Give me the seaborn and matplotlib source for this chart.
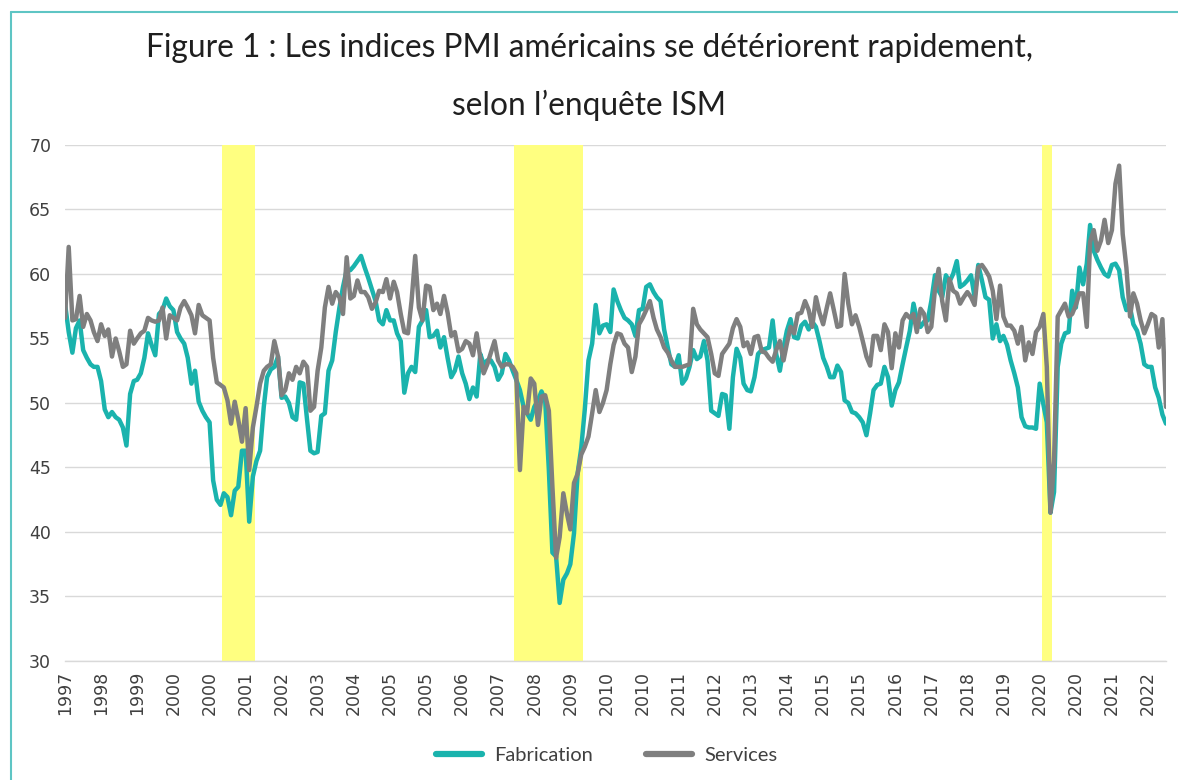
import numpy as np
import pandas as pd
import matplotlib.pyplot as plt
import seaborn as sns
from matplotlib.lines import Line2D

# === 1. Données : indices ISM mensuels, juillet 1997 -> décembre 2022 ===
start_month = '1997-07'

fabrication = [
    57.7, 55.5, 53.9, 55.8, 56.4, 54.1,                                # 1997 (jul-déc)
    53.5, 53.0, 52.8, 52.8, 51.7, 49.5, 48.9, 49.3, 48.9, 48.7, 48.1, 46.7,  # 1998
    50.7, 51.7, 51.8, 52.3, 53.5, 55.4, 54.5, 53.7, 56.9, 57.2, 58.1, 57.5,  # 1999
    57.2, 55.5, 55.0, 54.6, 53.5, 51.5, 52.5, 50.1, 49.4, 48.9, 48.5, 44.0,  # 2000
    42.5, 42.1, 43.0, 42.7, 41.3, 43.2, 43.5, 46.3, 46.3, 40.8, 44.3, 45.5,  # 2001
    46.3, 49.7, 52.0, 52.6, 52.8, 53.6, 50.4, 50.5, 50.0, 48.9, 48.7, 51.6,  # 2002
    51.5, 48.7, 46.3, 46.1, 46.2, 49.0, 49.2, 52.5, 53.3, 55.5, 57.4, 59.0,  # 2003
    60.3, 60.3, 60.6, 61.0, 61.4, 60.5, 59.7, 58.8, 57.9, 56.4, 56.1, 57.2,  # 2004
    56.4, 56.4, 55.4, 54.8, 50.8, 52.3, 52.8, 52.4, 55.9, 56.4, 57.2, 55.1,  # 2005
    55.2, 55.6, 54.3, 55.1, 53.5, 52.0, 52.5, 53.6, 52.3, 51.5, 50.3, 51.2,  # 2006
    50.5, 53.8, 53.0, 53.3, 53.3, 52.8, 51.8, 52.3, 53.8, 53.3, 52.5, 51.8,  # 2007
    51.0, 49.7, 49.2, 48.7, 49.7, 50.2, 50.9, 50.2, 44.8, 38.4, 38.1, 34.5,  # 2008
    36.3, 36.8, 37.5, 39.9, 44.5, 46.5, 49.5, 53.3, 54.6, 57.6, 55.4, 56.0,  # 2009
    56.1, 55.5, 58.8, 57.9, 57.2, 56.6, 56.4, 56.1, 55.2, 57.2, 57.3, 59.0,  # 2010
    59.2, 58.6, 58.2, 57.9, 55.7, 54.3, 53.0, 52.8, 53.7, 51.5, 51.9, 52.8,  # 2011
    54.1, 53.4, 53.6, 54.8, 53.3, 49.4, 49.2, 49.0, 50.7, 50.6, 48.0, 52.0,  # 2012
    54.2, 53.5, 51.5, 51.0, 50.9, 52.0, 53.8, 54.1, 54.2, 54.3, 56.4, 53.8,  # 2013
    52.5, 54.3, 55.6, 56.5, 55.1, 55.0, 56.0, 56.3, 55.7, 56.3, 55.9, 54.8,  # 2014
    53.5, 52.8, 52.0, 52.0, 52.9, 52.4, 50.2, 50.0, 49.3, 49.2, 48.9, 48.5,  # 2015
    47.5, 49.2, 51.0, 51.4, 51.5, 52.8, 52.0, 49.8, 51.0, 51.6, 53.0, 54.3,  # 2016
    55.6, 57.7, 56.5, 55.9, 56.3, 56.4, 57.9, 59.9, 58.7, 58.2, 59.9, 59.4,  # 2017
    60.0, 61.0, 59.0, 59.2, 59.5, 59.9, 58.2, 60.7, 59.5, 58.2, 58.0, 55.0,  # 2018
    56.1, 54.8, 55.2, 54.5, 53.3, 52.3, 51.2, 48.9, 48.2, 48.1, 48.1, 48.0,  # 2019
    51.5, 49.9, 48.5, 41.5, 43.1, 52.8, 54.6, 55.4, 55.5, 58.7, 57.4, 60.5,  # 2020
    59.2, 60.8, 63.8, 61.8, 61.1, 60.5, 60.0, 59.8, 60.7, 60.8, 60.3, 58.2,  # 2021
    57.2, 57.4, 56.1, 55.6, 54.6, 53.0, 52.8, 52.8, 51.2, 50.4, 49.1, 48.4,  # 2022
]

services = [
    56.6, 62.1, 56.4, 56.5, 58.3, 55.9,                                # 1997 (jul-déc)
    56.9, 56.4, 55.5, 54.8, 56.1, 55.2, 55.7, 53.6, 55.0, 54.0, 52.8, 53.0,  # 1998
    55.6, 54.6, 55.0, 55.4, 55.6, 56.6, 56.4, 56.3, 56.4, 57.4, 55.0, 56.8,  # 1999
    56.6, 56.4, 57.4, 57.9, 57.4, 56.8, 55.4, 57.6, 56.8, 56.6, 56.4, 53.5,  # 2000
    51.6, 51.4, 51.2, 50.2, 48.4, 50.1, 48.7, 47.0, 49.6, 44.8, 48.1, 49.7,  # 2001
    51.5, 52.5, 52.8, 53.0, 54.8, 53.6, 50.6, 51.0, 52.3, 51.8, 52.8, 52.3,  # 2002
    53.2, 52.8, 49.4, 49.7, 52.5, 54.3, 57.4, 59.0, 57.7, 58.6, 58.2, 56.9,  # 2003
    61.3, 58.1, 58.3, 59.5, 58.6, 58.6, 58.2, 57.3, 57.8, 58.7, 58.6, 59.6,  # 2004
    58.1, 59.4, 58.6, 56.9, 55.5, 55.4, 57.9, 61.4, 57.4, 56.4, 59.1, 59.0,  # 2005
    57.2, 57.7, 56.9, 58.3, 57.0, 55.2, 55.5, 54.0, 54.2, 54.8, 54.6, 53.7,  # 2006
    55.4, 53.5, 52.3, 53.0, 53.9, 54.8, 53.3, 52.8, 53.0, 53.0, 52.8, 52.3,  # 2007
    44.8, 49.7, 49.2, 51.9, 51.5, 48.3, 50.5, 50.6, 49.4, 43.5, 38.0, 39.6,  # 2008
    43.0, 41.4, 40.2, 43.8, 44.5, 46.0, 46.6, 47.4, 49.2, 51.0, 49.3, 50.0,  # 2009
    51.0, 53.0, 54.5, 55.4, 55.3, 54.6, 54.3, 52.4, 53.6, 56.1, 56.6, 57.2,  # 2010
    57.9, 56.6, 55.7, 55.1, 54.3, 53.9, 53.3, 52.8, 52.8, 52.8, 52.9, 53.0,  # 2011
    57.3, 56.1, 55.7, 55.4, 55.1, 53.8, 52.3, 52.1, 53.8, 54.2, 54.6, 55.8,  # 2012
    56.5, 55.9, 54.4, 54.7, 53.8, 55.1, 55.2, 54.0, 53.9, 53.5, 53.2, 54.1,  # 2013
    54.8, 53.3, 54.6, 55.9, 55.4, 56.9, 57.0, 57.9, 57.2, 55.9, 58.2, 57.0,  # 2014
    56.1, 57.4, 58.5, 57.2, 55.9, 56.0, 60.0, 57.7, 56.1, 56.8, 55.9, 54.8,  # 2015
    53.6, 52.9, 55.2, 55.2, 54.1, 56.1, 55.5, 52.7, 55.4, 54.3, 56.4, 56.9,  # 2016
    56.6, 56.9, 55.5, 57.3, 56.9, 55.5, 55.9, 58.8, 60.4, 57.9, 56.4, 59.6,  # 2017
    58.7, 58.5, 57.7, 58.2, 58.6, 58.2, 57.6, 60.5, 60.7, 60.3, 59.8, 58.7,  # 2018
    56.5, 59.1, 56.7, 56.0, 56.0, 55.6, 54.6, 55.9, 53.3, 54.7, 53.8, 55.5,  # 2019
    55.9, 56.9, 52.8, 41.5, 45.5, 56.7, 57.2, 57.7, 56.7, 56.9, 57.6, 58.5,  # 2020
    58.5, 55.9, 62.5, 63.4, 61.8, 62.6, 64.2, 62.4, 63.4, 67.0, 68.4, 63.1,  # 2021
    60.5, 56.7, 58.5, 57.7, 56.4, 55.4, 56.1, 56.9, 56.7, 54.3, 56.5, 49.7,  # 2022
]

# récessions américaines (bandes jaunes), premier et dernier mois
recession_starts = ['2001-03', '2007-12', '2020-02']
recession_ends = ['2001-11', '2009-06', '2020-04']

title_1 = 'Figure 1 : Les indices PMI américains se détériorent rapidement,'
title_2 = 'selon l’enquête ISM'

# === 2. Mise en forme ===
dates = pd.date_range(start_month, periods=len(fabrication), freq='MS')
df = pd.DataFrame({'date': dates, 'Fabrication': fabrication, 'Services': services})
df = df.melt(id_vars='date', var_name='serie', value_name='indice')

sns.set_style('white')
plt.rcParams['font.family'] = ['DejaVu Sans']

teal = '#1AB3AD'
grey = '#7F7F7F'

fig = plt.figure(figsize=(11.78, 7.8), dpi=100)
ax = fig.add_axes([0.0552, 0.1526, 0.9346, 0.6615])

# bandes de récession
half_month = pd.Timedelta(days=15)
for s, e in zip(recession_starts, recession_ends):
    ax.axvspan(pd.Timestamp(s) - half_month, pd.Timestamp(e) + half_month,
               color='#FFFF80', lw=0, zorder=1)

# === 3. Courbes ===
sns.lineplot(data=df, x='date', y='indice', hue='serie',
             palette={'Fabrication': teal, 'Services': grey},
             linewidth=3.2, ax=ax, legend=False, zorder=3)

ax.set_ylim(30, 70)
ax.set_yticks(np.arange(30, 71, 5))
ax.set_xlim(dates[0], dates[-1])
tick_dates = dates[::10]
ax.set_xticks(tick_dates)
ax.set_xticklabels([str(d.year) for d in tick_dates], rotation=90)
ax.set_xlabel('')
ax.set_ylabel('')

ax.set_axisbelow(True)
ax.yaxis.grid(True, color='#D9D9D9', lw=1)
ax.xaxis.grid(False)
for side in ['top', 'right', 'left']:
    ax.spines[side].set_visible(False)
ax.spines['bottom'].set_color('#D9D9D9')
ax.spines['bottom'].set_linewidth(1)
ax.tick_params(axis='y', length=0, pad=10, labelsize=12.5, labelcolor='#404040')
ax.tick_params(axis='x', direction='out', length=4, width=1, color='#D9D9D9',
               pad=3, labelsize=12.5, labelcolor='#404040')

# === 4. Titre, légende, cadre ===
fig.text(0.5, 1 - 48 / 780, title_1, ha='center', va='center', fontsize=22.8,
         family='Lato', weight='normal', color='#1F1F1F')
fig.text(0.5, 1 - 105 / 780, title_2, ha='center', va='center', fontsize=22.8,
         family='Lato', weight='normal', color='#1F1F1F')

handles = [Line2D([], [], color=teal, lw=4.5), Line2D([], [], color=grey, lw=4.5)]
fig.legend(handles, ['Fabrication', 'Services'], loc='center',
           bbox_to_anchor=(0.515, 1 - 755 / 780), ncol=2, frameon=False,
           handlelength=2.3, handletextpad=0.6, columnspacing=2.6,
           prop={'family': 'Lato', 'size': 14.5}, labelcolor='#404040')

frame_col = '#5EC5C4'
fig.add_artist(Line2D([11 / 1178, 1], [1 - 12 / 780, 1 - 12 / 780],
                      transform=fig.transFigure, color=frame_col, lw=1.5))
fig.add_artist(Line2D([11 / 1178, 11 / 1178], [0, 1 - 12 / 780],
                      transform=fig.transFigure, color=frame_col, lw=1.5))

plt.savefig('out.png', dpi=100)
